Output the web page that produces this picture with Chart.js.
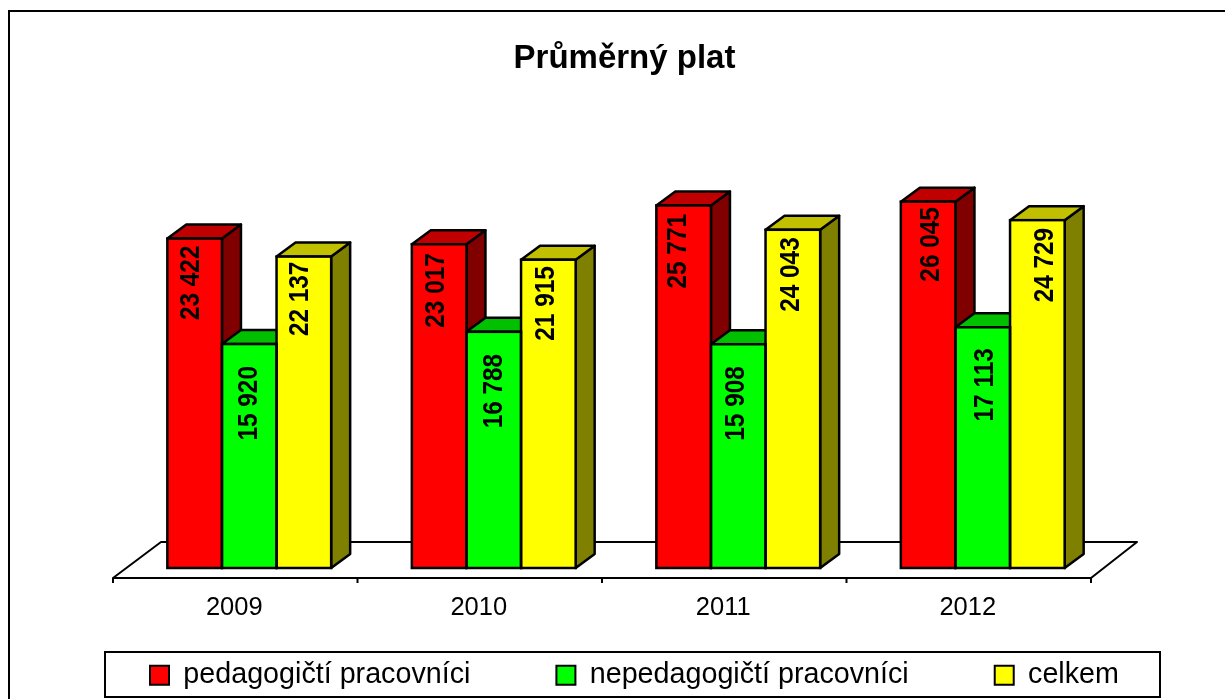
<!DOCTYPE html>
<html>
<head>
<meta charset="utf-8">
<title>Průměrný plat</title>
<script src="https://cdn.jsdelivr.net/npm/chart.js@4"></script>
<style>
    html, body { margin: 0; padding: 0; background: #fff; overflow: hidden; }
    canvas { display: block; }
</style>
</head>
<body>
<canvas id="platChart" width="1225" height="699"></canvas>
<script>
const roky = ['2009', '2010', '2011', '2012'];
const pedagogicti = [23422, 23017, 25771, 26045];
const nepedagogicti = [15920, 16788, 15908, 17113];
const celkem = [22137, 21915, 24043, 24729];

const fontName = '"Liberation Sans", Arial, sans-serif';
const depthX = 19, depthY = 14;         // bar depth
const floorX = 47, floorY = 36;         // floor depth
const legendPad = 86;

// side and top colours of the 3D bars, one per series
const sideColors = ['#800000', '#008000', '#808000'];
const topColors = ['#c00000', '#00c000', '#c0c000'];
// the value labels were placed by hand in the original
const labelInset = [[7, 9, 8.5, 5.5], [22, 22, 22, 21], [5, 6.5, 7.5, 7.7]];
const labelShift = [[-6, -5, -7.5, 1], [-2, -2, -4, 0], [-6, -4, -3.5, 6]];

function poly(ctx, points, fill) {
    ctx.beginPath();
    points.forEach(function(p, i) {
        if (i === 0) ctx.moveTo(p[0], p[1]); else ctx.lineTo(p[0], p[1]);
    });
    ctx.closePath();
    if (fill) { ctx.fillStyle = fill; ctx.fill(); }
    ctx.stroke();
}

const look3d = {
    id: 'look3d',
    beforeLayout(chart) {
        // the legend has wide gaps between items but a low box
        const lg = chart.legend;
        if (!lg.fitWrapped) {
            const fit = lg.fit;
            lg.fit = function() {
                this.maxWidth = chart.width;
                fit.call(this);
                this.height = 60;
            };
            lg.fitWrapped = true;
        }
    },
    afterLayout(chart) {
        chart.titleBlock.left += 8.5;
        chart.titleBlock.right += 8.5;
        const lg = chart.legend;
        lg.left = 150 - legendPad;
        lg.right = chart.width;
        lg.top = 661 - legendPad;
        lg.bottom = chart.height;
    },
    beforeDatasetsDraw(chart) {
        const ctx = chart.ctx;
        const x = chart.scales.x, y = chart.scales.y;
        const base = y.getPixelForValue(0);
        const front = base + 10, back = front - floorY;
        const l = x.left - 14, r = x.right - 14;
        ctx.save();
        ctx.strokeStyle = '#000';
        ctx.lineWidth = 2;
        ctx.lineJoin = 'round';

        // floor
        poly(ctx, [[l, front], [l + floorX + 1, back], [r + floorX - 1, back], [r, front]], '#fff');
        for (let i = 0; i <= roky.length; i++) {
            const tx = l + i * (r - l) / roky.length;
            ctx.beginPath();
            ctx.moveTo(tx, front);
            ctx.lineTo(tx, front + 5);
            ctx.stroke();
        }

        // side and top faces
        ctx.lineWidth = 2.5;
        chart.data.datasets.forEach(function(ds, d) {
            chart.getDatasetMeta(d).data.forEach(function(bar) {
                const x0 = bar.x - bar.width / 2, x1 = bar.x + bar.width / 2;
                poly(ctx, [[x1, bar.y], [x1 + depthX, bar.y - depthY], [x1 + depthX, bar.base - depthY], [x1, bar.base]], sideColors[d]);
                poly(ctx, [[x0, bar.y], [x0 + depthX, bar.y - depthY], [x1 + depthX, bar.y - depthY], [x1, bar.y]], topColors[d]);
            });
        });
        ctx.restore();
    },
    afterDatasetsDraw(chart) {
        const ctx = chart.ctx;
        ctx.save();
        chart.data.datasets.forEach(function(ds, d) {
            chart.getDatasetMeta(d).data.forEach(function(bar, j) {
                ctx.strokeStyle = '#000';
                ctx.lineWidth = 2.5;
                ctx.strokeRect(bar.x - bar.width / 2, bar.y, bar.width, bar.base - bar.y);

                // value label, reading upwards, tall and a little narrow like the original
                ctx.save();
                ctx.translate(bar.x + labelShift[d][j] + 10, bar.y + labelInset[d][j]);
                ctx.rotate(-Math.PI / 2);
                ctx.scale(0.87, 1);
                ctx.fillStyle = '#000';
                ctx.font = 'bold 28px ' + fontName;
                ctx.textAlign = 'right';
                ctx.textBaseline = 'alphabetic';
                ctx.fillText(String(ds.data[j]).replace(/\B(?=(\d{3})+$)/g, ' '), 0, 0);
                ctx.restore();
            });
        });
        ctx.restore();
    },
    afterDraw(chart) {
        const ctx = chart.ctx;
        ctx.save();
        ctx.strokeStyle = '#000';
        ctx.lineWidth = 2;
        // outer frame, cut off by the right and bottom of the picture
        ctx.beginPath();
        ctx.moveTo(9, 699);
        ctx.lineTo(9, 11);
        ctx.lineTo(1225, 11);
        ctx.stroke();
        // legend frame
        ctx.strokeRect(105, 652, 1055, 45);
        ctx.restore();
    }
};

var ctx = document.getElementById('platChart').getContext('2d');
window.platChart = new Chart(ctx, {
    type: 'bar',
    data: {
        labels: roky,
        datasets: [
            { label: 'pedagogičtí pracovníci', data: pedagogicti, backgroundColor: '#ff0000' },
            { label: 'nepedagogičtí pracovníci', data: nepedagogicti, backgroundColor: '#00ff00' },
            { label: 'celkem', data: celkem, backgroundColor: '#ffff00' }
        ]
    },
    options: {
        responsive: false,
        animation: false,
        devicePixelRatio: 1,
        categoryPercentage: 0.67,
        barPercentage: 1,
        borderWidth: 0,
        layout: { padding: { left: 127, right: 120, top: 0, bottom: 11 } },
        plugins: {
            tooltip: { enabled: false },
            title: {
                display: true,
                text: 'Průměrný plat',
                color: '#000',
                font: { family: fontName, size: 33, weight: 'bold' },
                padding: { top: 39, bottom: 67.4 }
            },
            legend: {
                position: 'bottom',
                align: 'start',
                labels: {
                    color: '#000',
                    font: { family: fontName, size: 28.7 },
                    boxWidth: 19,
                    boxHeight: 19,
                    padding: legendPad,
                    generateLabels(chart) {
                        return Chart.defaults.plugins.legend.labels.generateLabels(chart).map(function(item) {
                            return Object.assign(item, { lineWidth: 2, strokeStyle: '#000' });
                        });
                    }
                }
            }
        },
        scales: {
            x: {
                grid: { display: false, drawTicks: false },
                border: { display: false },
                ticks: {
                    color: '#000',
                    font: { family: fontName, size: 25.5 },
                    padding: 25,
                    labelOffset: -15,
                    maxRotation: 0
                },
                afterFit(scale) { scale.height = 60; }
            },
            y: {
                display: false,
                min: 0,
                max: 30000
            }
        }
    },
    plugins: [look3d]
});
</script>
</body>
</html>
